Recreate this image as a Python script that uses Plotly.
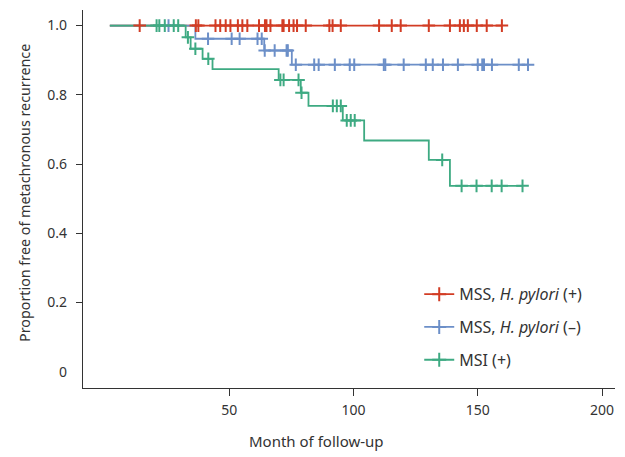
import plotly.graph_objects as go

# ---------------- data ----------------
start_month = 2.0

series_names = ["MSS, <i>H. pylori</i> (+)", "MSS, <i>H. pylori</i> (–)", "MSI (+)"]
series_colors = ["#D23C24", "#6C8FC8", "#3EAA82"]

red_drop_months = []
red_drop_levels = []
red_censor_months = [14.0, 36.6, 37.6, 44.5, 46.4, 48.6, 50.5, 53.5, 55.3, 57.3, 62.0, 64.4,
                     65.0, 66.6, 71.4, 71.9, 74.1, 75.9, 77.3, 80.8, 90.3, 91.6, 94.9, 110.3,
                     115.4, 119.0, 130.3, 138.8, 142.8, 144.4, 146.0, 149.6, 153.6, 159.7]

blue_drop_months = [36.4, 64.1, 75.2]
blue_drop_levels = [0.962, 0.928, 0.887]
blue_censor_months = [25.6, 41.5, 51.0, 54.2, 61.4, 63.1, 64.3, 68.3, 73.1, 73.6, 76.8, 84.2,
                      86.0, 92.5, 98.5, 100.3, 112.2, 112.8, 120.2, 129.1, 131.9, 136.0, 142.0,
                      150.0, 151.8, 152.5, 155.7, 166.5, 170.2]

green_drop_months = [32.5, 34.5, 39.3, 43.3, 69.9, 78.8, 81.9, 95.7, 104.3, 130.3, 138.8]
green_drop_levels = [0.966, 0.933, 0.904, 0.874, 0.843, 0.806, 0.768, 0.726, 0.668, 0.612, 0.537]
green_censor_months = [20.8, 21.9, 24.1, 27.7, 29.5, 33.4, 36.4, 41.6, 70.6, 71.9, 77.9, 79.1,
                       91.7, 93.3, 94.9, 97.3, 98.9, 100.5, 135.7, 143.5, 149.5, 155.6, 159.6, 168.0]

x_tick_values = [50, 100, 150, 200]
y_tick_values = [0.2, 0.4, 0.6, 0.8, 1.0]
y_tick_labels = ["0.2", "0.4", "0.6", "0.8", "1.0"]

x_title = "Month of follow-up"
y_title = "Proportion free of metachronous recurrence"

series = [
    (red_drop_months, red_drop_levels, red_censor_months),
    (blue_drop_months, blue_drop_levels, blue_censor_months),
    (green_drop_months, green_drop_levels, green_censor_months),
]


def km_path(drops, levels, censors):
    ev = [(t, 0, v) for t, v in zip(drops, levels)] + [(t, 1, None) for t in censors]
    ev.sort(key=lambda e: (e[0], e[1]))
    xs, ys = [start_month], [1.0]
    cx, cy = [], []
    cur = 1.0
    for t, kind, v in ev:
        if kind == 0:
            cur = v
        else:
            cx.append(t)
            cy.append(cur)
        xs.append(t)
        ys.append(cur)
    return xs, ys, cx, cy


FONT = "Noto Sans, Open Sans, DejaVu Sans, sans-serif"
TXT = "#333333"

fig = go.Figure()
paths = [km_path(*s) for s in series]

for (xs, ys, cx, cy), col in zip(paths, series_colors):
    fig.add_trace(go.Scatter(x=xs, y=ys, mode="lines", line=dict(color=col, width=1.8, shape="hv"),
                             showlegend=False, hoverinfo="skip"))
for (xs, ys, cx, cy), col in zip(paths, series_colors):
    fig.add_trace(go.Scatter(x=cx, y=cy, mode="markers",
                             marker=dict(symbol="cross-thin", size=9, color=col,
                                         line=dict(color=col, width=2)),
                             showlegend=False))
for i, (name, col) in enumerate(zip(series_names, series_colors)):
    fig.add_trace(go.Scatter(x=[None], y=[None], mode="lines+markers", name=name,
                             legendgroup=f"g{i}",
                             line=dict(color=col, width=1.8),
                             marker=dict(symbol="cross-thin", size=10, color=col,
                                         line=dict(color=col, width=2))))

fig.update_layout(
    width=617, height=449,
    margin=dict(l=75, r=10, t=2, b=69),
    paper_bgcolor="white", plot_bgcolor="white",
    font=dict(family=FONT, size=14, color=TXT),
    legend=dict(x=0.632, xanchor="left", y=0.293, yanchor="top",
                bgcolor="rgba(0,0,0,0)", tracegroupgap=9,
                font=dict(family=FONT, size=16, color=TXT)),
    xaxis=dict(range=[-8.8, 205.2], tickvals=x_tick_values, ticks="outside", ticklen=7,
               tickwidth=1.3, tickcolor="#333", showline=True, linecolor="#333", linewidth=1.3,
               showgrid=False, zeroline=False, ticklabelstandoff=2,
               tickfont=dict(family=FONT, size=14, color=TXT)),
    yaxis=dict(range=[-0.047, 1.045], tickvals=y_tick_values, ticktext=y_tick_labels,
               ticks="outside", ticklen=6, tickwidth=1.3, tickcolor="#333",
               showline=True, linecolor="#333", linewidth=1.3, showgrid=False, zeroline=False,
               ticklabelstandoff=6, tickfont=dict(family=FONT, size=14, color=TXT)),
    annotations=[
        dict(text="0", x=0, xref="paper", y=0, yref="y", xanchor="right", yanchor="middle",
             xshift=-14, showarrow=False, font=dict(family=FONT, size=14, color=TXT)),
        dict(text=x_title, x=0.438, xref="paper", y=-0.140, yref="paper", xanchor="center",
             yanchor="middle", showarrow=False, font=dict(family=FONT, size=15, color=TXT)),
        dict(text=y_title, x=-0.109, xref="paper", y=0.516, yref="paper", xanchor="center",
             yanchor="middle", textangle=-90, showarrow=False,
             font=dict(family=FONT, size=14.3, color=TXT)),
    ],
)

fig.write_html("out.html")
